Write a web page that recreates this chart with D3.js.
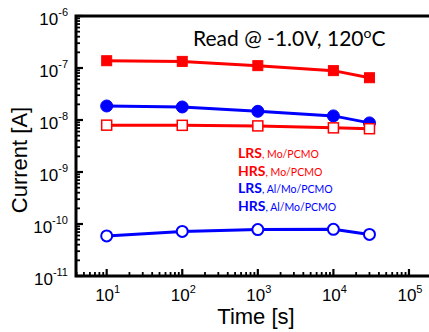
<!DOCTYPE html>
<html><head><meta charset="utf-8">
<script src="https://cdn.jsdelivr.net/npm/d3@7"></script>
<style>html,body{margin:0;padding:0;background:#fff}svg{display:block}</style>
</head><body>
<svg id="c" width="429" height="332"></svg>
<script>
const times = [10, 100, 1000, 10000, 30000];
const lrsMo = [1.38e-7, 1.34e-7, 1.11e-7, 8.9e-8, 6.5e-8];
const hrsMo = [7.96e-9, 7.9e-9, 7.7e-9, 7.06e-9, 6.8e-9];
const lrsAl = [1.86e-8, 1.78e-8, 1.47e-8, 1.2e-8, 8.8e-9];
const hrsAl = [5.9e-11, 7.2e-11, 7.8e-11, 7.9e-11, 6.3e-11];
const xTickExps = [1, 2, 3, 4, 5];
const yTickExps = [-11, -10, -9, -8, -7, -6];
const legendBold = ["LRS", "HRS", "LRS", "HRS"];
const legendRest = [", Mo/PCMO", ", Mo/PCMO", ", Al/Mo/PCMO", ", Al/Mo/PCMO"];
const legendColors = ["#ff0000", "#ff0000", "#0000ff", "#0000ff"];

const svg = d3.select("#c");
const L = 76, R = 429, T = 16, B = 276;
const x = d3.scaleLog().domain([Math.pow(10, 0.594), Math.pow(10, 5.265)]).range([L, R]);
const y = d3.scaleLog().domain([1e-11, 1e-6]).range([B, T]);

// minor ticks
const xMinor = [], yMinor = [];
for (let e = 0; e <= 5; e++) for (let m = 2; m <= 9; m++) {
  const v = m * Math.pow(10, e);
  if (v > x.domain()[0] && v < x.domain()[1]) xMinor.push(v);
}
for (let e = -11; e < -6; e++) for (let m = 2; m <= 9; m++) yMinor.push(m * Math.pow(10, e));

const g = svg.append("g");
g.selectAll(".xmin").data(xMinor).enter().append("line")
  .attr("x1", d => x(d)).attr("x2", d => x(d)).attr("y1", B).attr("y2", B - 4)
  .attr("stroke", "#000").attr("stroke-width", 1.8);
g.selectAll(".xmaj").data(xTickExps).enter().append("line")
  .attr("x1", d => x(Math.pow(10, d))).attr("x2", d => x(Math.pow(10, d))).attr("y1", B).attr("y2", B - 7)
  .attr("stroke", "#000").attr("stroke-width", 2.2);
g.selectAll(".ymin").data(yMinor).enter().append("line")
  .attr("y1", d => y(d)).attr("y2", d => y(d)).attr("x1", L).attr("x2", L + 4)
  .attr("stroke", "#000").attr("stroke-width", 1.8);
g.selectAll(".ymaj").data(yTickExps).enter().append("line")
  .attr("y1", d => y(Math.pow(10, d))).attr("y2", d => y(Math.pow(10, d))).attr("x1", L).attr("x2", L + 7)
  .attr("stroke", "#000").attr("stroke-width", 2.2);

// frame: left, bottom, top
g.append("path").attr("d", `M${R},${T}H${L}V${B}H${R}`).attr("fill", "none")
  .attr("stroke", "#000").attr("stroke-width", 3);

// tick labels
const font = "'Liberation Sans', Arial, sans-serif";
const xl = svg.selectAll(".xl").data(xTickExps).enter().append("text")
  .attr("x", d => x(Math.pow(10, d)) + 1).attr("y", 301)
  .attr("text-anchor", "middle").attr("font-family", font).attr("font-size", 17);
xl.append("tspan").text("10");
xl.append("tspan").attr("font-size", 11).attr("dy", -8).text(d => d);

const yl = svg.selectAll(".yl").data(yTickExps).enter().append("text")
  .attr("x", 68).attr("y", d => y(Math.pow(10, d)) + 9)
  .attr("text-anchor", "end").attr("font-family", font).attr("font-size", 17);
yl.append("tspan").text("10");
yl.append("tspan").attr("font-size", 11).attr("dy", -9).text(d => "-" + Math.abs(d));

svg.append("text").attr("x", 256).attr("y", 324).attr("text-anchor", "middle")
  .attr("font-family", font).attr("font-size", 22).text("Time [s]");
svg.append("text").attr("transform", "translate(27,160) rotate(-90)").attr("text-anchor", "middle")
  .attr("font-family", font).attr("font-size", 22).text("Current [A]");

// title
const cal = "Lato, 'Open Sans', sans-serif";
const tt = svg.append("text").attr("x", 193).attr("y", 46).attr("font-family", cal).attr("font-size", 21);
tt.append("tspan").text("Read @ -1.0V, 120");
tt.append("tspan").attr("font-size", 14).attr("dy", -8).text("o");
tt.append("tspan").attr("dy", 8).text("C");

// series
const series = [
  {vals: lrsMo, color: "#ff0000", shape: "square", fill: true},
  {vals: lrsAl, color: "#0000ff", shape: "circle", fill: true},
  {vals: hrsMo, color: "#ff0000", shape: "square", fill: false},
  {vals: hrsAl, color: "#0000ff", shape: "circle", fill: false}
];
const line = d3.line().x(d => x(d[0])).y(d => y(d[1]));
series.forEach(s => {
  const pts = times.map((t, i) => [t, s.vals[i]]);
  svg.append("path").attr("d", line(pts)).attr("fill", "none").attr("stroke", s.color).attr("stroke-width", 3);
  const mg = svg.append("g");
  if (s.shape === "square") {
    mg.selectAll("rect").data(pts).enter().append("rect")
      .attr("x", d => x(d[0]) - 5).attr("y", d => y(d[1]) - 5).attr("width", 10).attr("height", 10)
      .attr("fill", s.fill ? s.color : "#fff").attr("stroke", s.color).attr("stroke-width", s.fill ? 1 : 1.5);
  } else {
    mg.selectAll("circle").data(pts).enter().append("circle")
      .attr("cx", d => x(d[0])).attr("cy", d => y(d[1])).attr("r", s.fill ? 6 : 5.5)
      .attr("fill", s.fill ? s.color : "#fff").attr("stroke", s.color).attr("stroke-width", s.fill ? 1 : 2);
  }
});

// legend
legendBold.forEach((b, i) => {
  const t = svg.append("text").attr("x", 238).attr("y", 158 + i * 17.7)
    .attr("font-family", cal).attr("fill", legendColors[i]);
  t.append("tspan").attr("font-weight", "bold").attr("font-size", 14).text(b);
  t.append("tspan").attr("font-size", 10.5).text(legendRest[i]);
});
</script>
</body></html>
